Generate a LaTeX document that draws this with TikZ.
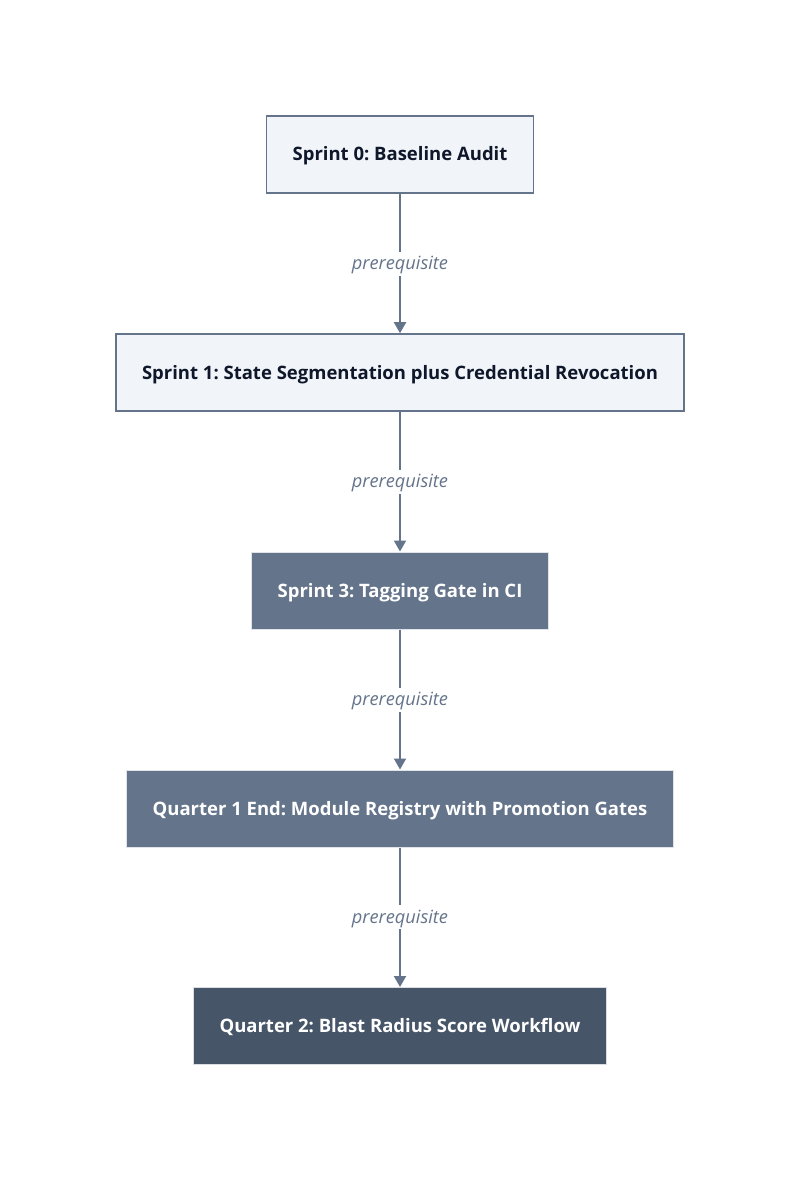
\documentclass[tikz,border=0pt]{standalone}
\usepackage{fontspec}
\setmainfont{Open Sans}
\usetikzlibrary{arrows.meta}
\frenchspacing
\definecolor{slateline}{HTML}{64748B}
\definecolor{slatelight}{HTML}{F1F4F9}
\definecolor{slatemid}{HTML}{64748B}
\definecolor{slatedark}{HTML}{475569}
\definecolor{inkdark}{HTML}{0F172A}
\tikzset{
  stage/.style={draw=slateline, line width=1.6pt, inner xsep=26pt, minimum height=77pt,
    text height=14pt, text depth=1pt, font=\fontsize{18.5}{22}\selectfont\bfseries},
  lightstage/.style={stage, fill=slatelight, text=inkdark},
  midstage/.style={stage, draw=white!80!slatemid, line width=1pt, fill=slatemid, text=white},
  darkstage/.style={stage, draw=white!80!slatedark, line width=1pt, fill=slatedark, text=white},
  link/.style={-{Triangle[length=11pt,width=12pt]}, draw=slateline, line width=2pt},
  linklabel/.style={fill=white, text=slateline, inner sep=4pt, text height=14pt, text depth=2pt,
    font=\fontsize{18.2}{21}\selectfont\itshape}
}
\begin{document}
\begin{tikzpicture}[x=1pt, y=-1pt]
  \useasboundingbox[fill=white] (0,0) rectangle (800,1182);
  \node[lightstage] (s0) at (400,154.5) {Sprint 0: Baseline Audit};
  \node[lightstage] (s1) at (400,372.5) {Sprint 1: State Segmentation plus Credential Revocation};
  \node[midstage] (s3) at (400,590.5) {Sprint 3: Tagging Gate in CI};
  \node[midstage] (q1) at (400,808.5) {Quarter 1 End: Module Registry with Promotion Gates};
  \node[darkstage] (q2) at (400,1026) {Quarter 2: Blast Radius Score Workflow};
  \draw[link] (s0) -- node[linklabel] {prerequisite} (s1);
  \draw[link] (s1) -- node[linklabel] {prerequisite} (s3);
  \draw[link] (s3) -- node[linklabel] {prerequisite} (q1);
  \draw[link] (q1) -- node[linklabel] {prerequisite} (q2);
\end{tikzpicture}
\end{document}
